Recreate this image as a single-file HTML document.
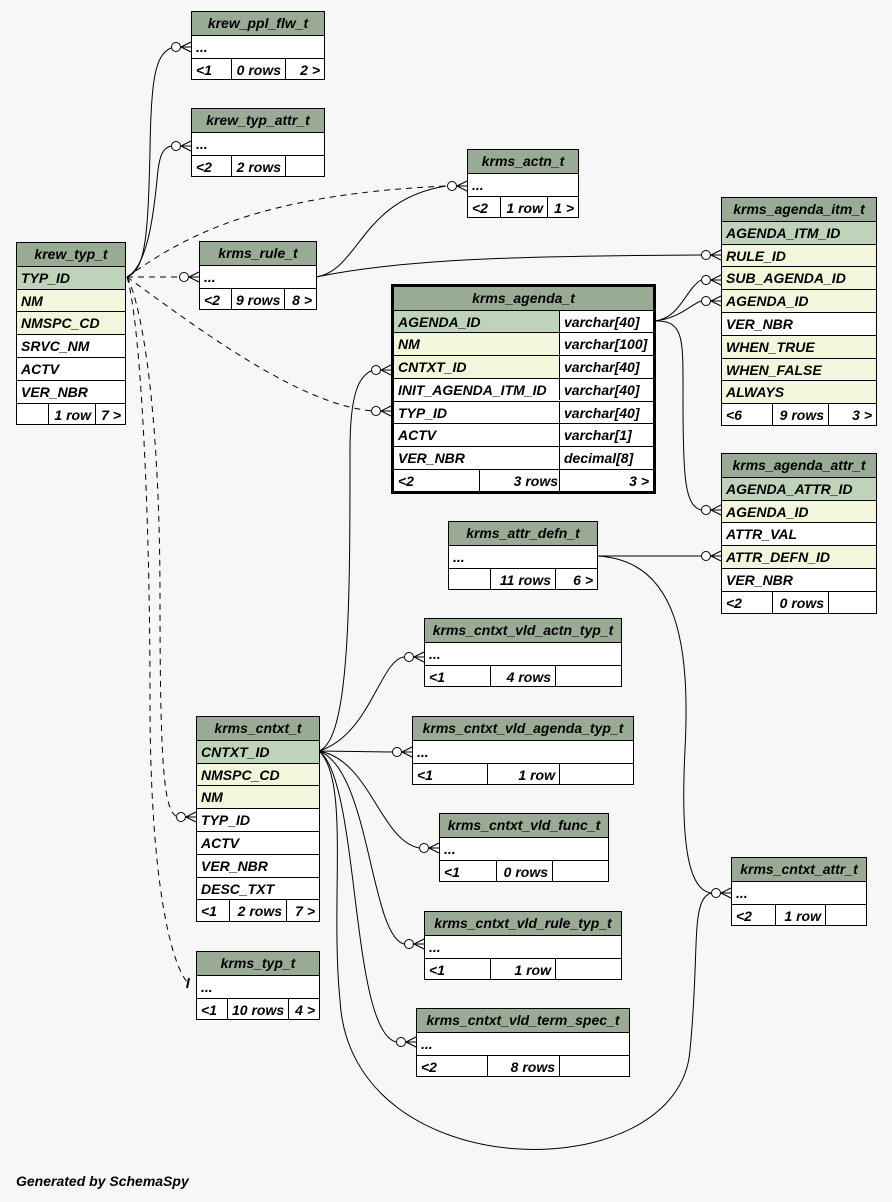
<!DOCTYPE html>
<html><head><meta charset="utf-8">
<style>
html,body{margin:0;padding:0;background:#f7f7f7;}
body{width:892px;height:1202px;position:relative;overflow:hidden;font-family:"Liberation Sans",sans-serif;font-weight:bold;font-style:italic;font-size:14px;color:#000;}
.t{position:absolute;background:#fff;border:1px solid #000;box-sizing:border-box;}
.r{position:absolute;left:0;right:0;border-top:1px solid #000;box-sizing:border-box;white-space:nowrap;overflow:hidden;}
.h{background:#9aab95;text-align:center;border-top:none;}
.pk{background:#bed3ba;}
.fk{background:#f3f5dc;}
.c{position:absolute;top:0;bottom:0;box-sizing:border-box;padding:0 4px;}
.bl{border-left:1px solid #000;}
.ra{text-align:right;}
svg{position:absolute;left:0;top:0;}
#gen{position:absolute;left:16px;top:1173px;}
</style></head><body>
<svg width="892" height="1202" id="s" fill="none" stroke="#000" stroke-width="1"></svg>
<div id="root"></div>
<div id="gen">Generated by SchemaSpy</div>
<script>
const T=[
["krew_ppl_flw_t",191,11,324,[["...",""]],["<1","0 rows","2 >"],[231,285]],
["krew_typ_attr_t",191,108,324,[["...",""]],["<2","2 rows",""],[231,285]],
["krms_actn_t",467,149,578,[["...",""]],["<2","1 row","1 >"],[500,547]],
["krew_typ_t",16,242,125,[["TYP_ID","pk"],["NM","fk"],["NMSPC_CD","fk"],["SRVC_NM",""],["ACTV",""],["VER_NBR",""]],["","1 row","7 >"],[48,95]],
["krms_rule_t",199,241,316,[["...",""]],["<2","9 rows","8 >"],[231,284]],
["krms_agenda_itm_t",721,197,876,[["AGENDA_ITM_ID","pk"],["RULE_ID","fk"],["SUB_AGENDA_ID","fk"],["AGENDA_ID","fk"],["VER_NBR",""],["WHEN_TRUE","fk"],["WHEN_FALSE","fk"],["ALWAYS","fk"]],["<6","9 rows","3 >"],[772,828]],
["krms_agenda_attr_t",721,453,876,[["AGENDA_ATTR_ID","pk"],["AGENDA_ID","fk"],["ATTR_VAL",""],["ATTR_DEFN_ID","fk"],["VER_NBR",""]],["<2","0 rows",""],[772,828]],
["krms_attr_defn_t",448,521,597,[["...",""]],["","11 rows","6 >"],[490,555]],
["krms_cntxt_vld_actn_typ_t",424,618,621,[["...",""]],["<1","4 rows",""],[490,555]],
["krms_cntxt_t",196,716,319,[["CNTXT_ID","pk"],["NMSPC_CD","fk"],["NM","fk"],["TYP_ID",""],["ACTV",""],["VER_NBR",""],["DESC_TXT",""]],["<1","2 rows","7 >"],[229,286]],
["krms_cntxt_vld_agenda_typ_t",412,716,633,[["...",""]],["<1","1 row",""],[487,559]],
["krms_cntxt_vld_func_t",439,813,608,[["...",""]],["<1","0 rows",""],[496,552]],
["krms_cntxt_attr_t",731,857,866,[["...",""]],["<2","1 row",""],[775,825]],
["krms_cntxt_vld_rule_typ_t",424,911,621,[["...",""]],["<1","1 row",""],[490,555]],
["krms_typ_t",196,951,319,[["...",""]],["<1","10 rows","4 >"],[227,288]],
["krms_cntxt_vld_term_spec_t",416,1008,629,[["...",""]],["<2","8 rows",""],[487,559]]
];
let h='';
const RH=22.8;
function footer(x1,x2,f,d,top){
  return `<div class="r" style="top:${top}px;height:${RH}px;line-height:${RH}px"><div class="c" style="left:0;width:${d[0]-x1}px">${f[0]}</div><div class="c bl ra" style="left:${d[0]-x1-1}px;width:${d[1]-d[0]}px">${f[1]}</div><div class="c bl ra" style="left:${d[1]-x1-1}px;right:0">${f[2]}</div></div>`;
}
for(const [n,x1,y1,x2,rows,f,d] of T){
  const H=RH*(rows.length+2)+1;
  let s=`<div class="t" style="left:${x1}px;top:${y1}px;width:${x2-x1+1}px;height:${H}px">`;
  s+=`<div class="r h" style="top:0;height:${RH}px;line-height:${RH}px">${n}</div>`;
  rows.forEach((r,i)=>{s+=`<div class="r ${r[1]}" style="top:${RH*(i+1)}px;height:${RH}px;line-height:${RH}px;padding-left:4px">${r[0]}</div>`;});
  s+=footer(x1,x2,f,d,RH*(rows.length+1));
  h+=s+'</div>';
}
{
 const x1=391,y1=284,x2=656,dv=559;
 const rows=[["AGENDA_ID","pk","varchar[40]"],["NM","fk","varchar[100]"],["CNTXT_ID","fk","varchar[40]"],["INIT_AGENDA_ITM_ID","","varchar[40]"],["TYP_ID","","varchar[40]"],["ACTV","","varchar[1]"],["VER_NBR","","decimal[8]"]];
 const R=22.7;
 let s=`<div class="t" style="left:${x1}px;top:${y1}px;width:${x2-x1}px;height:${R*9+6}px;border:3px solid #000">`;
 s+=`<div class="r h" style="top:0;height:${R}px;line-height:${R}px">krms_agenda_t</div>`;
 rows.forEach((r,i)=>{s+=`<div class="r" style="top:${R*(i+1)}px;height:${R}px;line-height:${R}px"><div class="c ${r[1]}" style="left:0;width:${dv-x1-3}px">${r[0]}</div><div class="c bl" style="left:${dv-x1-3}px;right:0">${r[2]}</div></div>`;});
 s+=`<div class="r" style="top:${R*8}px;height:${R}px;line-height:${R}px"><div class="c" style="left:0;width:85px">&lt;2</div><div class="c bl ra" style="left:85px;width:83px">3 rows</div><div class="c bl ra" style="left:${dv-x1-3}px;right:0">3 &gt;</div></div>`;
 h+=s+'</div>';
}
document.getElementById('root').innerHTML=h.replace(/"<(\d)/g,'"&lt;$1');
const P=[
["M127,277 C145,270 148,240 150,150 C151,80 155,55 171,48",0],
["M127,277 C150,265 155,200 158,170 C160,155 163,148 171,146",0],
["M127,277 C180,240 250,195 446,186",1],
["M127,277 L179,277",1],
["M127,277 C200,330 300,405 373,411",1],
["M127,277 C140,300 160,400 160,600 C160,780 165,810 177,817",1],
["M127,277 C140,320 150,500 150,700 C150,900 175,970 188,983",1],
["M316,277 C360,270 360,200 446,186",0],
["M316,277 C400,260 500,256 701,255",0],
["M655,321 C680,318 685,290 701,280",0],
["M655,321 C680,318 690,305 701,301",0],
["M655,321 C685,320 683,340 683,400 C683,480 685,505 701,510",0],
["M319,751 C350,740 350,600 350,450 C350,390 360,375 373,370",0],
["M319,751 C370,735 380,660 404,657",0],
["M319,751 L392,752",0],
["M319,751 C370,760 380,840 419,848",0],
["M319,751 C370,770 370,935 404,944",0],
["M319,751 C360,780 350,1030 396,1042",0],
["M319,751 C350,780 330,900 340,1000 C350,1190 680,1190 690,1050 C700,950 690,900 711,893",0],
["M597,556 L701,556",0],
["M597,556 C680,560 690,650 685,750 C680,850 690,890 711,893",0]
];
let sv='';
for(const [d,dash] of P) sv+=`<path d="${d}" ${dash?'stroke-dasharray="6,5"':''}/>`;
const E=[[191,47],[191,146],[467,186],[199,277],[391,411],[196,817],[721,255],[721,280],[721,301],[721,510],[391,370],[424,657],[412,752],[439,848],[424,944],[416,1042],[731,893],[721,556]];
for(const [x,y] of E){
  sv+=`<line x1="${x-10}" y1="${y}" x2="${x}" y2="${y-5}"/><line x1="${x-10}" y1="${y}" x2="${x}" y2="${y}"/><line x1="${x-10}" y1="${y}" x2="${x}" y2="${y+5}"/>`;
  sv+=`<circle cx="${x-15}" cy="${y}" r="4.5" fill="#fff"/>`;
}
sv+=`<line x1="189" y1="978" x2="187" y2="988" stroke-width="2"/>`;
document.getElementById('s').innerHTML=sv;
</script>
</body></html>
